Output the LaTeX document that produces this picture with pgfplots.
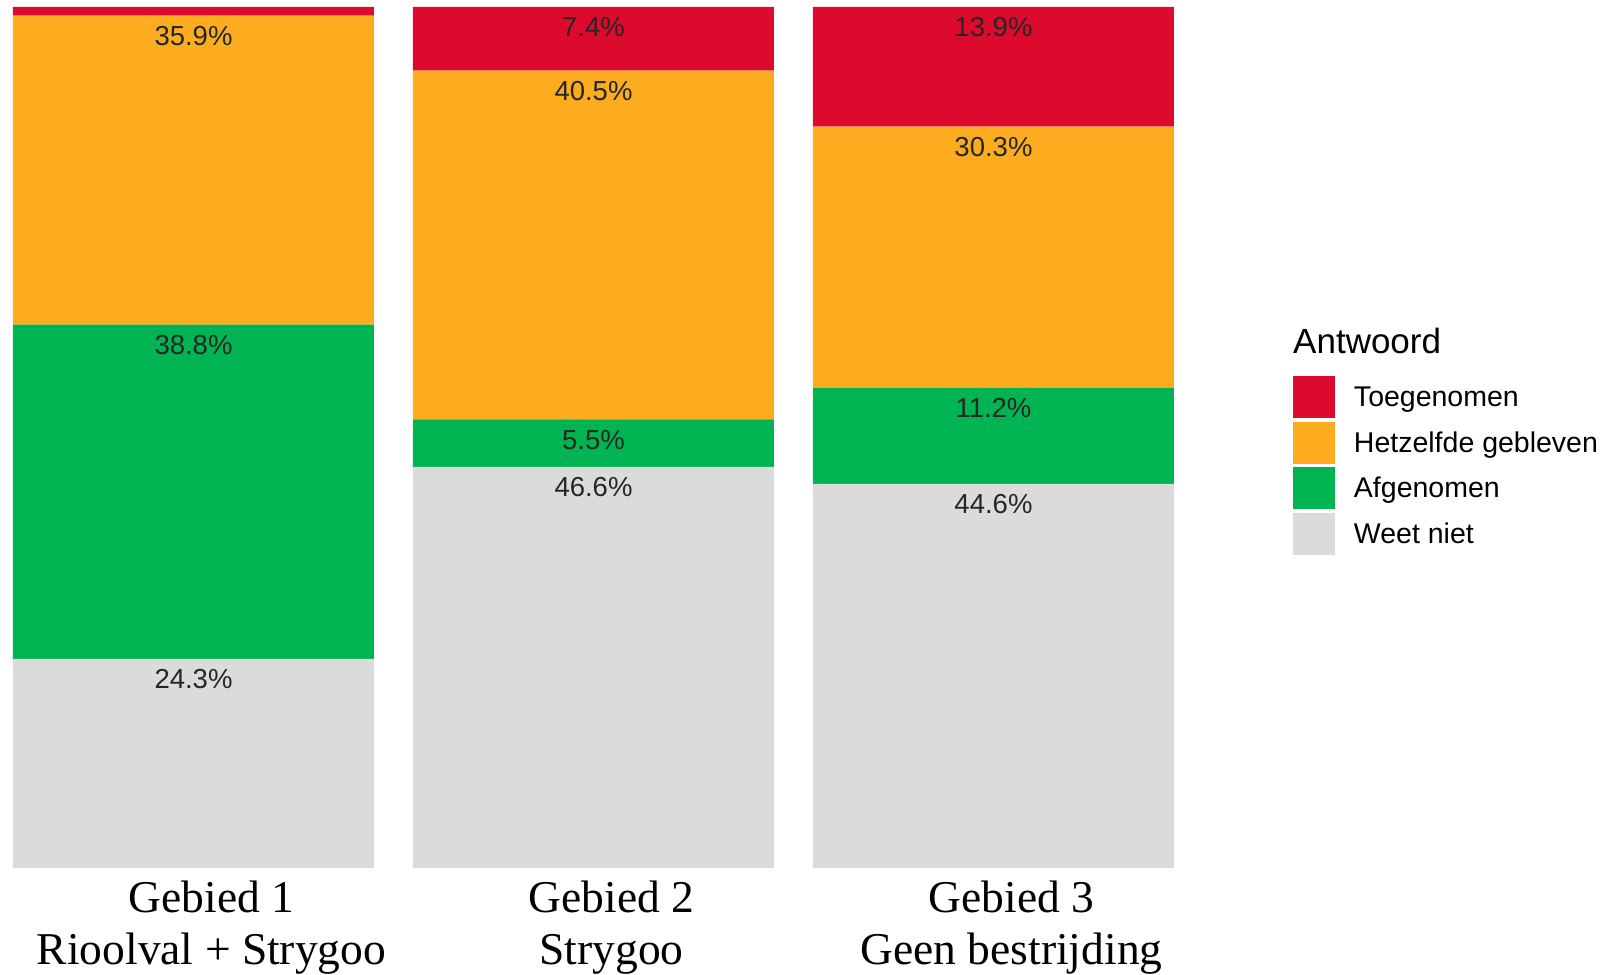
\documentclass[border=0pt]{standalone}
\usepackage{fontspec}
\setmainfont{Liberation Sans}
\newfontfamily\serif{Liberation Serif}
\usepackage{pgfplots}
\usepackage{pgfplotstable}
\pgfplotsset{compat=1.18}

\definecolor{toe}{RGB}{220,10,45}
\definecolor{hetz}{RGB}{253,172,32}
\definecolor{af}{RGB}{0,181,81}
\definecolor{weet}{RGB}{219,219,219}

% percentages per area, bottom segment first
\pgfplotstableread{
x weet af hetz toe lweet laf lhetz ltoe
1 24.3 38.8 35.9 1.0 24.3\% 38.8\% 35.9\% {}
2 46.6 5.5 40.5 7.4 46.6\% 5.5\% 40.5\% 7.4\%
3 44.6 11.2 30.3 13.9 44.6\% 11.2\% 30.3\% 13.9\%
}\data

% labels sit just below the top of each segment (1% = 8.61bp)
\pgfplotsset{
  seg/.style={
    fill=#1, draw=none,
    legend image code/.code={\fill[##1] (0bp,-21bp) rectangle (42bp,21bp);},
    visualization depends on=rawy\as\ry,
    every node near coord/.append style={anchor=center, yshift={\ry*4.305bp-20.5bp},
      inner sep=0pt, text=black!85, font=\fontsize{27.5bp}{33bp}\selectfont},
  },
}

\begin{document}
\begin{tikzpicture}
\path[use as bounding box] (0bp,0bp) rectangle (1604bp,975bp);
\begin{axis}[
  at={(0bp,107bp)}, anchor=south west,
  scale only axis, width=1187bp, height=861bp,
  xmin=0.51625, xmax=3.48375, ymin=0, ymax=100,
  ybar stacked, bar width=361bp,
  axis line style={draw=none}, tick style={draw=none}, major tick length=0pt,
  xtick={1,2,3}, ytick=\empty,
  xticklabels={{Gebied 1\\Rioolval + Strygoo},{Gebied 2\\Strygoo},{Gebied 3\\Geen bestrijding}},
  xticklabel style={font=\serif\fontsize{45.5bp}{52bp}\selectfont, align=center,
    anchor=north, inner sep=0pt, yshift=-13bp, xshift=18bp},
  point meta=explicit symbolic,
  nodes near coords={\pgfplotspointmeta},
  clip=false,
  reverse legend,
  legend cell align=left,
  legend style={at={(axis description cs:1.0893,0.5714)}, anchor=north west,
    draw=none, fill=none, inner sep=0pt, outer sep=0pt, row sep=3.7bp,
    nodes={inner sep=0pt, outer sep=0pt, font=\fontsize{28.5bp}{34bp}\selectfont},
    /tikz/every odd column/.append style={column sep=19bp}},
]
\addplot[seg=weet] table[x=x, y=weet, meta=lweet] {\data};
\addplot[seg=af] table[x=x, y=af, meta=laf] {\data};
\addplot[seg=hetz] table[x=x, y=hetz, meta=lhetz] {\data};
\addplot[seg=toe] table[x=x, y=toe, meta=ltoe] {\data};
\legend{Weet niet, Afgenomen, Hetzelfde gebleven, Toegenomen}
\end{axis}
\node[anchor=base west, inner sep=0pt, font=\fontsize{35bp}{42bp}\selectfont]
  at (1293bp,621bp) {Antwoord};
\end{tikzpicture}
\end{document}
